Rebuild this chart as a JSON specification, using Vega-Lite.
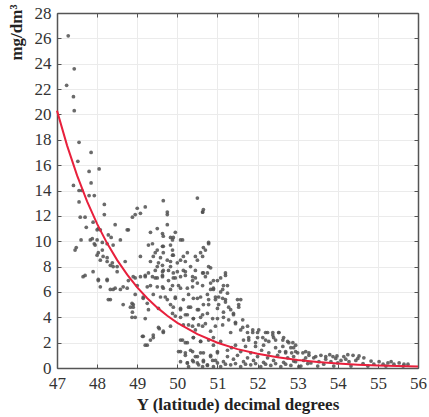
{
  "$schema": "https://vega.github.io/schema/vega-lite/v6.json",
  "width": 361,
  "height": 355,
  "autosize": {"type": "none"},
  "padding": {"left": 57, "top": 13, "right": 11, "bottom": 49},
  "background": "white",
  "config": {"view": {"stroke": null}, "font": "Liberation Serif"},
  "datasets": {
    "pts": [
      {"lat":47.28,"conc":26.2},{"lat":47.43,"conc":23.6},{"lat":47.24,"conc":22.3},{"lat":47.41,"conc":21.4},{"lat":47.43,"conc":20.3},
      {"lat":47.55,"conc":17.8},{"lat":47.52,"conc":16.3},{"lat":47.85,"conc":17.0},{"lat":47.8,"conc":15.5},{"lat":48.05,"conc":15.7},
      {"lat":47.85,"conc":14.6},{"lat":47.41,"conc":14.4},{"lat":47.55,"conc":14.0},{"lat":47.62,"conc":14.0},{"lat":47.8,"conc":13.6},
      {"lat":47.93,"conc":13.6},{"lat":47.55,"conc":13.1},{"lat":48.18,"conc":12.9},{"lat":49.0,"conc":12.6},{"lat":49.2,"conc":12.7},
      {"lat":49.65,"conc":13.2},{"lat":50.5,"conc":13.4},{"lat":47.58,"conc":11.9},{"lat":47.7,"conc":11.9},{"lat":48.18,"conc":12.1},
      {"lat":48.45,"conc":11.3},{"lat":47.9,"conc":11.5},{"lat":48.0,"conc":10.9},{"lat":48.08,"conc":10.9},{"lat":47.6,"conc":10.1},
      {"lat":47.83,"conc":10.1},{"lat":47.93,"conc":9.8},{"lat":48.25,"conc":9.8},{"lat":48.35,"conc":10.3},{"lat":48.58,"conc":10.1},
      {"lat":48.75,"conc":10.9},{"lat":47.45,"conc":9.3},{"lat":48.03,"conc":9.1},{"lat":48.25,"conc":8.7},{"lat":48.38,"conc":8.3},
      {"lat":48.08,"conc":8.5},{"lat":48.5,"conc":8.0},{"lat":48.7,"conc":8.4},{"lat":47.65,"conc":7.2},{"lat":48.03,"conc":6.9},
      {"lat":48.25,"conc":6.9},{"lat":48.08,"conc":6.4},{"lat":48.33,"conc":6.2},{"lat":48.45,"conc":6.3},{"lat":48.65,"conc":6.4},
      {"lat":48.33,"conc":5.4},{"lat":48.65,"conc":5.0},{"lat":48.87,"conc":5.1},{"lat":48.9,"conc":4.8},{"lat":48.87,"conc":4.0},
      {"lat":48.78,"conc":6.9},{"lat":48.95,"conc":7.1},{"lat":49.08,"conc":7.2},{"lat":49.28,"conc":7.5},{"lat":49.25,"conc":6.4},
      {"lat":49.15,"conc":5.6},{"lat":49.28,"conc":4.6},{"lat":49.15,"conc":2.5},{"lat":49.25,"conc":1.8},{"lat":49.4,"conc":2.6},
      {"lat":49.33,"conc":2.2},{"lat":49.55,"conc":3.1},{"lat":49.65,"conc":2.8},{"lat":49.83,"conc":3.3},
      {"lat":47.73,"conc":11.1},{"lat":48.03,"conc":11.0},{"lat":48.78,"conc":10.9},{"lat":48.88,"conc":11.9},{"lat":48.28,"conc":10.5},
      {"lat":47.88,"conc":10.2},{"lat":48.0,"conc":10.1},{"lat":48.13,"conc":9.9},{"lat":48.4,"conc":9.7},{"lat":47.48,"conc":9.5},
      {"lat":47.95,"conc":9.7},{"lat":48.13,"conc":9.3},{"lat":48.0,"conc":8.9},{"lat":48.15,"conc":8.8},{"lat":48.25,"conc":8.4},
      {"lat":48.33,"conc":8.1},{"lat":48.4,"conc":8.0},{"lat":48.5,"conc":7.6},{"lat":47.7,"conc":7.3},{"lat":47.9,"conc":7.6},
      {"lat":48.03,"conc":7.0},{"lat":48.25,"conc":7.0},{"lat":48.4,"conc":6.2},{"lat":48.58,"conc":6.2},{"lat":48.75,"conc":6.3},
      {"lat":48.28,"conc":5.4},{"lat":48.88,"conc":4.4},{"lat":48.83,"conc":4.8},
      {"lat":49.75,"conc":12.3},{"lat":49.75,"conc":12.1},{"lat":50.63,"conc":12.3},{"lat":49.08,"conc":12.2},{"lat":48.95,"conc":12.1},
      {"lat":49.75,"conc":11.3},{"lat":49.5,"conc":11.0},{"lat":49.33,"conc":10.7},{"lat":49.63,"conc":10.6},{"lat":49.95,"conc":10.7},
      {"lat":49.65,"conc":10.4},{"lat":49.83,"conc":10.3},{"lat":49.88,"conc":10.1},{"lat":50.13,"conc":10.1},{"lat":50.78,"conc":9.9},
      {"lat":49.28,"conc":9.7},{"lat":49.63,"conc":9.6},{"lat":49.83,"conc":9.7},{"lat":49.88,"conc":9.3},{"lat":50.65,"conc":9.5},
      {"lat":49.45,"conc":9.1},{"lat":49.65,"conc":9.1},{"lat":49.88,"conc":8.9},{"lat":50.15,"conc":8.8},{"lat":50.45,"conc":8.8},
      {"lat":50.58,"conc":9.1},{"lat":49.08,"conc":8.8},{"lat":49.33,"conc":8.4},{"lat":49.53,"conc":8.3},{"lat":49.63,"conc":8.1},
      {"lat":49.83,"conc":8.4},{"lat":50.0,"conc":8.3},{"lat":50.2,"conc":8.4},{"lat":50.5,"conc":8.5},{"lat":50.83,"conc":7.9},
      {"lat":49.45,"conc":7.7},{"lat":49.63,"conc":7.6},{"lat":49.78,"conc":7.7},{"lat":49.9,"conc":7.5},{"lat":50.2,"conc":7.6},
      {"lat":50.45,"conc":7.7},{"lat":50.63,"conc":7.5},{"lat":50.7,"conc":7.2},{"lat":50.78,"conc":8.0},{"lat":49.2,"conc":7.3},
      {"lat":49.38,"conc":7.2},{"lat":49.63,"conc":7.2},{"lat":50.08,"conc":7.2},{"lat":50.38,"conc":7.2},
      {"lat":49.38,"conc":9.8},{"lat":49.5,"conc":9.3},{"lat":49.65,"conc":9.6},{"lat":49.9,"conc":10.3},{"lat":50.08,"conc":10.1},
      {"lat":49.4,"conc":8.8},{"lat":49.58,"conc":8.7},{"lat":49.75,"conc":8.5},{"lat":49.9,"conc":8.9},{"lat":50.08,"conc":8.5},
      {"lat":50.25,"conc":9.1},{"lat":49.5,"conc":8.0},{"lat":49.65,"conc":7.7},{"lat":49.83,"conc":8.0},{"lat":50.0,"conc":7.6},
      {"lat":50.15,"conc":7.7},{"lat":50.33,"conc":8.0},{"lat":49.45,"conc":7.1},{"lat":49.63,"conc":7.3},{"lat":49.78,"conc":6.9},
      {"lat":49.95,"conc":7.1},{"lat":50.2,"conc":7.3},{"lat":50.38,"conc":6.9},{"lat":49.5,"conc":6.4},{"lat":49.65,"conc":6.3},
      {"lat":49.83,"conc":6.2},{"lat":50.03,"conc":6.5},{"lat":50.25,"conc":6.3},{"lat":50.5,"conc":6.7},{"lat":49.58,"conc":5.6},
      {"lat":49.75,"conc":5.4},{"lat":49.95,"conc":5.6},{"lat":50.15,"conc":5.4},{"lat":50.4,"conc":5.5},{"lat":50.58,"conc":5.6},
      {"lat":49.9,"conc":4.8},{"lat":50.08,"conc":4.6},{"lat":50.28,"conc":4.8},{"lat":50.5,"conc":4.6},{"lat":50.65,"conc":5.0},
      {"lat":50.78,"conc":5.4},{"lat":50.08,"conc":4.0},{"lat":50.25,"conc":4.2},{"lat":50.4,"conc":3.9},{"lat":50.58,"conc":4.0},
      {"lat":50.75,"conc":4.3},{"lat":50.15,"conc":3.4},{"lat":50.38,"conc":3.3},{"lat":50.53,"conc":3.4},{"lat":50.7,"conc":3.5},
      {"lat":50.13,"conc":2.2},{"lat":50.25,"conc":2.0},{"lat":50.4,"conc":2.4},{"lat":50.58,"conc":2.1},
      {"lat":48.9,"conc":7.2},{"lat":49.2,"conc":7.2},{"lat":49.5,"conc":7.1},{"lat":49.9,"conc":7.1},{"lat":50.45,"conc":7.1},
      {"lat":50.75,"conc":7.5},{"lat":50.9,"conc":6.9},{"lat":49.0,"conc":6.5},{"lat":49.33,"conc":6.5},{"lat":49.63,"conc":6.4},
      {"lat":49.88,"conc":6.5},{"lat":50.08,"conc":6.3},{"lat":50.38,"conc":6.4},{"lat":50.63,"conc":6.5},{"lat":50.83,"conc":6.2},
      {"lat":48.95,"conc":5.8},{"lat":49.15,"conc":5.5},{"lat":49.4,"conc":5.8},{"lat":49.7,"conc":5.6},{"lat":49.95,"conc":5.5},
      {"lat":50.28,"conc":5.8},{"lat":50.5,"conc":5.5},{"lat":50.75,"conc":5.8},{"lat":50.95,"conc":5.4},{"lat":48.9,"conc":5.0},
      {"lat":49.25,"conc":5.1},{"lat":49.53,"conc":4.7},{"lat":49.83,"conc":5.0},{"lat":50.08,"conc":4.7},{"lat":50.33,"conc":4.8},
      {"lat":50.53,"conc":4.6},{"lat":50.78,"conc":5.0},{"lat":51.0,"conc":4.7},{"lat":48.95,"conc":4.0},{"lat":49.2,"conc":3.9},
      {"lat":49.88,"conc":4.3},{"lat":49.95,"conc":4.1},{"lat":50.2,"conc":4.2},{"lat":50.4,"conc":3.9},{"lat":50.63,"conc":4.2},
      {"lat":50.88,"conc":3.9},{"lat":49.53,"conc":3.2},{"lat":49.65,"conc":2.9},{"lat":50.28,"conc":3.4},{"lat":50.45,"conc":3.0},
      {"lat":50.63,"conc":3.3},{"lat":50.83,"conc":2.9},{"lat":50.95,"conc":3.3},{"lat":49.13,"conc":2.5},{"lat":49.4,"conc":2.4},
      {"lat":49.2,"conc":1.8},{"lat":50.08,"conc":2.2},{"lat":50.2,"conc":2.0},{"lat":50.4,"conc":2.4},{"lat":50.58,"conc":2.1},
      {"lat":50.78,"conc":2.2},{"lat":50.9,"conc":1.8},{"lat":50.03,"conc":1.3},{"lat":50.2,"conc":1.2},{"lat":50.38,"conc":1.3},
      {"lat":50.5,"conc":0.9},{"lat":50.65,"conc":1.2},{"lat":50.83,"conc":1.0},{"lat":51.0,"conc":1.3},{"lat":50.08,"conc":0.5},
      {"lat":50.25,"conc":0.4},{"lat":50.4,"conc":0.5},{"lat":50.53,"conc":0.25},{"lat":50.65,"conc":0.5},{"lat":50.75,"conc":0.25},
      {"lat":50.88,"conc":0.6},{"lat":51.0,"conc":0.4},{"lat":50.28,"conc":0.1},{"lat":50.63,"conc":0.1},{"lat":50.9,"conc":0.1},
      {"lat":50.08,"conc":1.3},{"lat":50.2,"conc":1.0},{"lat":50.33,"conc":1.4},{"lat":50.45,"conc":0.9},{"lat":50.58,"conc":1.2},
      {"lat":50.38,"conc":0.6},{"lat":50.25,"conc":0.4},{"lat":50.5,"conc":0.4},{"lat":50.65,"conc":0.6},{"lat":50.75,"conc":0.2},
      {"lat":50.83,"conc":0.9},{"lat":50.78,"conc":9.8},{"lat":50.7,"conc":9.3},{"lat":50.63,"conc":8.8},{"lat":50.65,"conc":7.5},
      {"lat":50.83,"conc":6.7},{"lat":50.9,"conc":6.2},{"lat":50.63,"conc":12.3},{"lat":50.65,"conc":12.5},
      {"lat":51.2,"conc":7.5},{"lat":51.08,"conc":7.1},{"lat":51.25,"conc":6.5},{"lat":51.13,"conc":6.2},{"lat":51.03,"conc":5.6},
      {"lat":51.2,"conc":5.4},{"lat":51.28,"conc":4.8},{"lat":51.5,"conc":5.4},{"lat":51.53,"conc":4.8},{"lat":51.4,"conc":4.3},
      {"lat":51.15,"conc":4.0},{"lat":51.45,"conc":3.6},{"lat":51.63,"conc":3.2},{"lat":51.75,"conc":2.8},{"lat":51.88,"conc":3.0},
      {"lat":52.0,"conc":2.8},{"lat":52.13,"conc":2.4},{"lat":52.25,"conc":2.8},{"lat":52.38,"conc":2.6},{"lat":52.53,"conc":2.8},
      {"lat":52.65,"conc":2.4},{"lat":52.75,"conc":2.1},{"lat":52.45,"conc":2.2},{"lat":51.78,"conc":2.2},{"lat":51.95,"conc":2.0},
      {"lat":52.15,"conc":1.8},{"lat":52.28,"conc":2.1},{"lat":52.63,"conc":1.7},{"lat":52.83,"conc":1.6},{"lat":52.95,"conc":1.3},
      {"lat":53.13,"conc":1.2},{"lat":52.7,"conc":1.2},{"lat":53.28,"conc":1.0},{"lat":53.45,"conc":0.9},
      {"lat":51.2,"conc":7.3},{"lat":51.0,"conc":6.9},{"lat":51.15,"conc":6.5},{"lat":50.9,"conc":6.3},{"lat":51.08,"conc":6.0},
      {"lat":51.25,"conc":5.9},{"lat":50.95,"conc":5.6},{"lat":51.13,"conc":5.5},{"lat":51.2,"conc":5.2},{"lat":51.58,"conc":5.4},
      {"lat":51.53,"conc":5.0},{"lat":51.03,"conc":5.0},{"lat":51.33,"conc":4.6},{"lat":51.15,"conc":4.4},{"lat":51.4,"conc":4.2},
      {"lat":51.63,"conc":3.8},{"lat":51.28,"conc":3.8},{"lat":51.0,"conc":3.9},{"lat":51.45,"conc":3.5},{"lat":51.13,"conc":3.4},
      {"lat":51.75,"conc":3.3},{"lat":51.58,"conc":3.0},{"lat":51.33,"conc":2.8},{"lat":51.88,"conc":2.8},{"lat":52.03,"conc":3.0},
      {"lat":52.2,"conc":2.8},{"lat":52.38,"conc":2.8},{"lat":52.53,"conc":2.8},{"lat":52.0,"conc":2.4},{"lat":51.78,"conc":2.4},
      {"lat":51.65,"conc":2.2},{"lat":52.2,"conc":2.2},{"lat":52.4,"conc":2.4},{"lat":52.63,"conc":2.2},{"lat":52.78,"conc":2.0},
      {"lat":52.95,"conc":1.8},{"lat":50.9,"conc":2.4},{"lat":51.08,"conc":2.1},{"lat":51.45,"conc":1.8},{"lat":51.95,"conc":1.7},
      {"lat":52.45,"conc":1.6},{"lat":52.7,"conc":1.3},{"lat":52.28,"conc":1.2},{"lat":51.83,"conc":1.2},{"lat":51.58,"conc":1.3},
      {"lat":51.25,"conc":1.4},{"lat":51.0,"conc":1.2},{"lat":52.9,"conc":0.9},
      {"lat":50.95,"conc":0.6},{"lat":51.15,"conc":0.5},{"lat":51.4,"conc":0.7},{"lat":51.65,"conc":0.5},{"lat":51.9,"conc":0.6},
      {"lat":52.15,"conc":0.45},{"lat":52.4,"conc":0.6},{"lat":52.65,"conc":0.45},{"lat":52.9,"conc":0.55},{"lat":51.08,"conc":0.1},
      {"lat":51.33,"conc":0.25},{"lat":51.58,"conc":0.1},{"lat":51.83,"conc":0.25},{"lat":52.08,"conc":0.1},{"lat":52.33,"conc":0.2},
      {"lat":52.58,"conc":0.1},{"lat":52.83,"conc":0.2},{"lat":53.03,"conc":0.1},
      {"lat":51.25,"conc":0.9},{"lat":51.5,"conc":1.0},{"lat":51.75,"conc":0.8},{"lat":52.0,"conc":0.9},{"lat":52.25,"conc":0.8},
      {"lat":52.5,"conc":1.0},{"lat":52.75,"conc":0.8},{"lat":51.2,"conc":0.3},{"lat":51.45,"conc":0.35},{"lat":51.7,"conc":0.3},
      {"lat":51.95,"conc":0.35},{"lat":52.2,"conc":0.3},{"lat":52.45,"conc":0.35},{"lat":52.7,"conc":0.3},{"lat":51.35,"conc":1.6},
      {"lat":51.7,"conc":1.7},{"lat":52.1,"conc":1.4},{"lat":52.55,"conc":1.3},{"lat":52.85,"conc":1.2},
      {"lat":52.88,"conc":2.0},{"lat":52.9,"conc":1.6},{"lat":53.0,"conc":1.2},{"lat":53.2,"conc":1.3},{"lat":53.28,"conc":1.2},
      {"lat":52.95,"conc":0.5},{"lat":53.15,"conc":0.6},{"lat":53.4,"conc":0.8},{"lat":53.7,"conc":0.9},{"lat":53.88,"conc":0.9},
      {"lat":53.98,"conc":0.95},{"lat":54.15,"conc":0.9},{"lat":54.38,"conc":1.0},{"lat":54.53,"conc":0.95},{"lat":54.65,"conc":0.8},
      {"lat":54.83,"conc":0.55},{"lat":55.03,"conc":0.5},{"lat":55.25,"conc":0.4},{"lat":55.33,"conc":0.5},{"lat":55.53,"conc":0.4},
      {"lat":53.83,"conc":0.5},{"lat":54.08,"conc":0.6},{"lat":54.28,"conc":0.5},{"lat":54.45,"conc":0.6},{"lat":53.53,"conc":0.5},
      {"lat":53.33,"conc":0.4},{"lat":53.65,"conc":0.3},{"lat":54.63,"conc":0.35},{"lat":54.9,"conc":0.3},{"lat":55.13,"conc":0.3},
      {"lat":55.4,"conc":0.3},{"lat":55.65,"conc":0.3},{"lat":53.08,"conc":0.15},{"lat":53.5,"conc":0.15},{"lat":53.9,"conc":0.15},
      {"lat":54.33,"conc":0.15},{"lat":54.75,"conc":0.15},{"lat":55.2,"conc":0.15},{"lat":55.63,"conc":0.15},{"lat":55.75,"conc":0.3},
      {"lat":53.7,"conc":0.7},{"lat":53.95,"conc":0.75},{"lat":54.2,"conc":0.7},{"lat":54.5,"conc":0.75},{"lat":54.0,"conc":0.4},
      {"lat":53.58,"conc":1.0},{"lat":53.8,"conc":1.05},{"lat":54.25,"conc":1.05},{"lat":53.2,"conc":0.8},{"lat":53.25,"conc":0.35}
    ],
    "fit": [
      {"lat":47.0,"conc":20.3},{"lat":47.25,"conc":17.56},{"lat":47.5,"conc":15.19},{"lat":47.75,"conc":13.14},
      {"lat":48.0,"conc":11.37},{"lat":48.25,"conc":9.83},{"lat":48.5,"conc":8.51},{"lat":48.75,"conc":7.36},
      {"lat":49.0,"conc":6.36},{"lat":49.25,"conc":5.5},{"lat":49.5,"conc":4.76},{"lat":49.75,"conc":4.12},
      {"lat":50.0,"conc":3.56},{"lat":50.5,"conc":2.67},{"lat":51.0,"conc":1.99},{"lat":51.5,"conc":1.49},
      {"lat":52.0,"conc":1.12},{"lat":52.5,"conc":0.84},{"lat":53.0,"conc":0.63},{"lat":53.5,"conc":0.47},
      {"lat":54.0,"conc":0.35},{"lat":54.5,"conc":0.26},{"lat":55.0,"conc":0.2},{"lat":55.5,"conc":0.15},{"lat":56.0,"conc":0.11}
    ]
  },
  "layer": [
    {
      "data": {"name": "pts"},
      "mark": {"type": "circle", "size": 14, "color": "#505050", "opacity": 0.85},
      "encoding": {
        "x": {
          "field": "lat", "type": "quantitative",
          "scale": {"domain": [47, 56], "nice": false, "zero": false},
          "axis": {
            "orient": "bottom", "values": [47,48,49,50,51,52,53,54,55,56], "format": "d",
            "title": "Y (latitude) decimal degrees",
            "titleFont": "Liberation Serif", "titleFontSize": 17, "titleFontWeight": "bold", "titleColor": "#222222", "titlePadding": 5,
            "labelFont": "Liberation Serif", "labelFontSize": 17, "labelColor": "#333333", "labelPadding": 11, "labelFlush": false,
            "tickSize": -4, "tickColor": "#555555", "tickWidth": 1,
            "domainColor": "#555555", "domainWidth": 1.5,
            "grid": true, "gridColor": "#ebebeb", "gridWidth": 1
          }
        },
        "y": {
          "field": "conc", "type": "quantitative",
          "scale": {"domain": [0, 28], "nice": false, "zero": true},
          "axis": {
            "orient": "left", "values": [0,2,4,6,8,10,12,14,16,18,20,22,24,26,28],
            "title": "mg/dm³", "titleAnchor": "end", "titleY": -9,
            "titleFont": "Liberation Serif", "titleFontSize": 17, "titleFontWeight": "bold", "titleColor": "#222222", "titlePadding": 9,
            "labelFont": "Liberation Serif", "labelFontSize": 17, "labelColor": "#333333", "labelPadding": 10,
            "tickSize": -4, "tickColor": "#555555", "tickWidth": 1,
            "domainColor": "#555555", "domainWidth": 1.5,
            "grid": true, "gridColor": "#ebebeb", "gridWidth": 1
          }
        }
      }
    },
    {
      "data": {"name": "fit"},
      "mark": {"type": "line", "color": "#e8203c", "strokeWidth": 2},
      "encoding": {
        "x": {
          "field": "lat", "type": "quantitative",
          "scale": {"domain": [47, 56], "nice": false, "zero": false},
          "axis": {
            "orient": "top", "values": [47,48,49,50,51,52,53,54,55,56], "labels": false, "title": null,
            "tickSize": -4, "tickColor": "#555555", "domainColor": "#555555", "domainWidth": 1.5, "grid": false
          }
        },
        "y": {
          "field": "conc", "type": "quantitative",
          "scale": {"domain": [0, 28], "nice": false},
          "axis": {
            "orient": "right", "values": [0,2,4,6,8,10,12,14,16,18,20,22,24,26,28], "labels": false, "title": null,
            "tickSize": -4, "tickColor": "#555555", "domainColor": "#555555", "domainWidth": 1.5, "grid": false
          }
        }
      }
    }
  ],
  "resolve": {"axis": {"x": "independent", "y": "independent"}}
}
